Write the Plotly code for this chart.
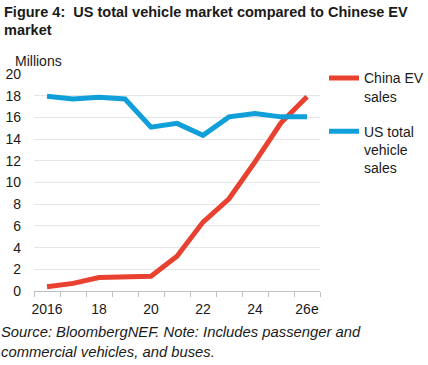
import plotly.graph_objects as go

years = ["2016", "2017", "2018", "2019", "2020", "2021", "2022", "2023", "2024", "2025", "2026e"]
tick_labels = ["2016", "18", "20", "22", "24", "26e"]
china_ev = [0.4, 0.7, 1.25, 1.25, 1.35, 3.2, 6.35, 8.5, 11.9, 15.5, 17.9]
us_total = [17.95, 17.7, 17.85, 17.7, 15.1, 15.45, 14.35, 16.05, 16.35, 16.05, 16.07]

FONT = "Arial, Liberation Sans, sans-serif"
RED = "#E8412F"
BLUE = "#119FD9"
TXT = "#1a1a1a"

x_idx = list(range(len(years)))

fig = go.Figure()
fig.add_trace(go.Scatter(x=x_idx, y=china_ev, mode="lines", name="China EV<br>sales",
                         legendgroup="china", line=dict(color=RED, width=5)))
fig.add_trace(go.Scatter(x=x_idx, y=us_total, mode="lines", name="US total<br>vehicle<br>sales",
                         legendgroup="us", line=dict(color=BLUE, width=5)))

fig.update_layout(
    width=428, height=365,
    margin=dict(l=34, r=108, t=74, b=74, autoexpand=False),
    paper_bgcolor="white", plot_bgcolor="white",
    font=dict(family=FONT, size=14, color=TXT),
    showlegend=True,
    legend=dict(x=1.014, y=1.054, xanchor="left", yanchor="top", valign="top",
                font=dict(size=14, color=TXT), tracegroupgap=14,
                itemwidth=30, bgcolor="rgba(0,0,0,0)"),
)

fig.update_xaxes(
    range=[-0.5, len(years) - 0.5],
    tickvals=x_idx[::2], ticktext=tick_labels,
    ticks="", showgrid=False, zeroline=False,
    showline=True, linecolor="#bfbfbf", linewidth=1,
    ticklabelstandoff=5,
    tickfont=dict(size=14, color=TXT),
    minor=dict(ticks="outside", tick0=-0.5, dtick=1, ticklen=5, tickcolor="#bfbfbf", showgrid=False),
)
fig.update_yaxes(
    range=[0, 20], dtick=2, showgrid=True, gridcolor="#e6e6e6", gridwidth=1,
    zeroline=False, showline=False, ticks="",
    ticklabelstandoff=12,
    tickfont=dict(size=14, color=TXT),
)

def ann(text, x, y, size=14):
    fig.add_annotation(text=text, xref="paper", yref="paper", x=x, y=y,
                       xanchor="left", yanchor="middle", align="left", showarrow=False,
                       font=dict(family=FONT, size=size, color=TXT))

ann("<b>Figure 4:  US total vehicle market compared to Chinese EV</b>", -0.112, 1.2857, 14.5)
ann("<b>market</b>", -0.112, 1.2028, 14.5)
ann("Millions", -0.073, 1.06)
ann("<i>Source: BloombergNEF. Note: Includes passenger and</i>", -0.122, -0.1889, 14.8)
ann("<i>commercial vehicles, and buses.</i>", -0.122, -0.2811, 14.8)

fig.write_html("out.html", config={"displayModeBar": False},
               post_script="document.body.style.margin='0';")
